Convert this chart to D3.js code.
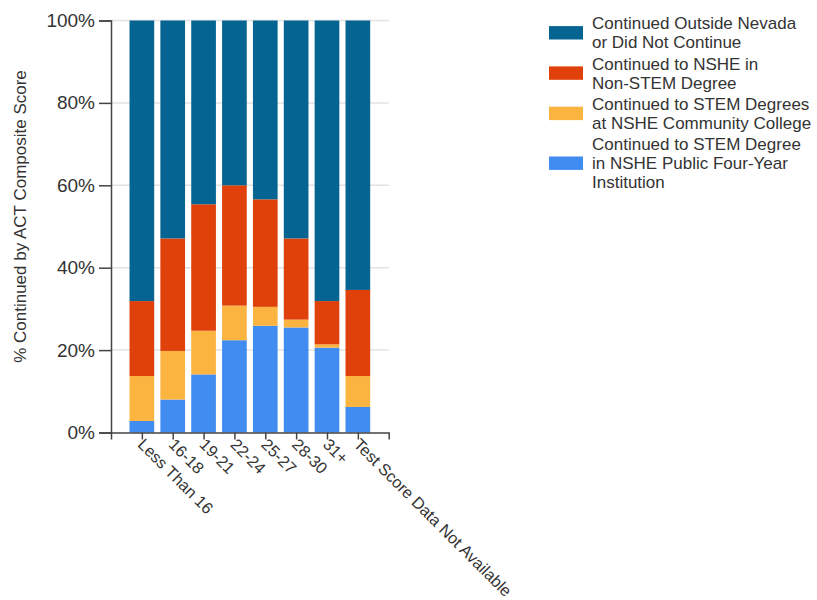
<!DOCTYPE html>
<html>
<head>
<meta charset="utf-8">
<script src="https://cdn.jsdelivr.net/npm/d3@7"></script>
<style>
  html, body { margin: 0; padding: 0; background: #fff; }
  svg { display: block; font-family: "Liberation Sans", Arial, sans-serif; }
</style>
</head>
<body>
<svg id="chart" width="817" height="600"></svg>
<script>
const categories = ["Less Than 16", "16-18", "19-21", "22-24", "25-27", "28-30", "31+", "Test Score Data Not Available"];
const fourYear = [2.8, 8.0, 14.1, 22.4, 25.9, 25.5, 20.6, 6.2];
const communityCollege = [10.9, 11.8, 10.6, 8.4, 4.6, 1.9, 0.8, 7.5];
const nonStem = [18.2, 27.3, 30.7, 29.2, 26.1, 19.7, 10.5, 20.9];
const outsideNevada = [68.1, 52.9, 44.6, 40.0, 43.4, 52.9, 68.1, 65.4];
const yTicks = [0, 20, 40, 60, 80, 100];
const seriesKeys = ["fourYear", "communityCollege", "nonStem", "outsideNevada"];
const seriesColors = ["#418CF0", "#FCB441", "#E0400A", "#056492"];
const legendLabels = [
  ["Continued Outside Nevada", "or Did Not Continue"],
  ["Continued to NSHE in", "Non-STEM Degree"],
  ["Continued to STEM Degrees", "at NSHE Community College"],
  ["Continued to STEM Degree", "in NSHE Public Four-Year", "Institution"]
];
const legendColors = ["#056492", "#E0400A", "#FCB441", "#418CF0"];
const yTitle = "% Continued by ACT Composite Score";

(function () {
const rows = categories.map((c, i) => ({
  cat: c,
  fourYear: fourYear[i],
  communityCollege: communityCollege[i],
  nonStem: nonStem[i],
  outsideNevada: outsideNevada[i]
}));

const svg = d3.select("#chart");
const plotLeft = 111, plotRight = 388.7, plotTop = 20.5, plotBottom = 432.5;
const textColor = "#333";
const axisColor = "#444";

const x = d3.scalePoint().domain(categories).range([plotLeft, plotRight]).padding(1);
const y = d3.scaleLinear().domain([0, 100]).range([plotBottom, plotTop]);
const barW = x.step() * 0.8;

// gridlines
svg.append("g").selectAll("line").data(yTicks.filter(d => d > 0)).join("line")
  .attr("x1", plotLeft).attr("x2", plotRight)
  .attr("y1", d => y(d)).attr("y2", d => y(d))
  .attr("stroke", "#e2e2e2").attr("stroke-width", 1.5);

// bars
const stacked = d3.stack().keys(seriesKeys)(rows);
svg.append("g").selectAll("g").data(stacked).join("g")
  .attr("fill", (d, i) => seriesColors[i])
  .selectAll("rect").data(d => d).join("rect")
  .attr("x", d => x(d.data.cat) - barW / 2)
  .attr("width", barW)
  .attr("y", d => y(d[1]))
  .attr("height", d => y(d[0]) - y(d[1]));

// y axis
const yAxis = svg.append("g").attr("transform", `translate(${plotLeft},0)`)
  .call(d3.axisLeft(y).tickValues(yTicks).tickFormat(d => d + "%").tickSize(12).tickSizeOuter(12).tickPadding(4));
yAxis.selectAll("path, line").attr("stroke", axisColor).attr("stroke-width", 1.5);
yAxis.selectAll("text").attr("fill", textColor).style("font-size", "19px")
  .attr("font-family", "'Liberation Sans', Arial, sans-serif");

// x axis
const xAxis = svg.append("g").attr("transform", `translate(0,${plotBottom})`)
  .call(d3.axisBottom(x).tickSize(7).tickSizeOuter(7).tickFormat(""));
xAxis.selectAll("path, line").attr("stroke", axisColor).attr("stroke-width", 1.5);

// x labels rotated
svg.append("g").selectAll("text").data(categories).join("text")
  .attr("transform", d => `translate(${x(d) - 1},${plotBottom + 9}) rotate(45)`)
  .attr("dy", "0.35em")
  .attr("text-anchor", "start")
  .attr("fill", textColor)
  .style("font-size", "16.3px")
  .text(d => d);

// y title
svg.append("text")
  .attr("transform", `translate(26,${(65 + 368) / 2}) rotate(-90)`)
  .attr("text-anchor", "middle")
  .attr("fill", textColor)
  .style("font-size", "17px")
  .text(yTitle);

// legend
const lineH = 19, gap = 2.3, startY = 23.3;
let cur = startY;
const lg = svg.append("g");
legendLabels.forEach((lines, i) => {
  const first = cur;
  const last = cur + (lines.length - 1) * lineH;
  const cy = (first + last) / 2;
  lg.append("rect")
    .attr("x", 549).attr("y", cy - 6.7)
    .attr("width", 34).attr("height", 13.4)
    .attr("fill", legendColors[i]);
  const t = lg.append("text").attr("fill", textColor).style("font-size", "17px");
  lines.forEach((ln, j) => {
    t.append("tspan").attr("x", 592).attr("y", first + j * lineH).attr("dy", "0.35em").text(ln);
  });
  cur = last + lineH + gap;
});
})();
</script>
</body>
</html>
